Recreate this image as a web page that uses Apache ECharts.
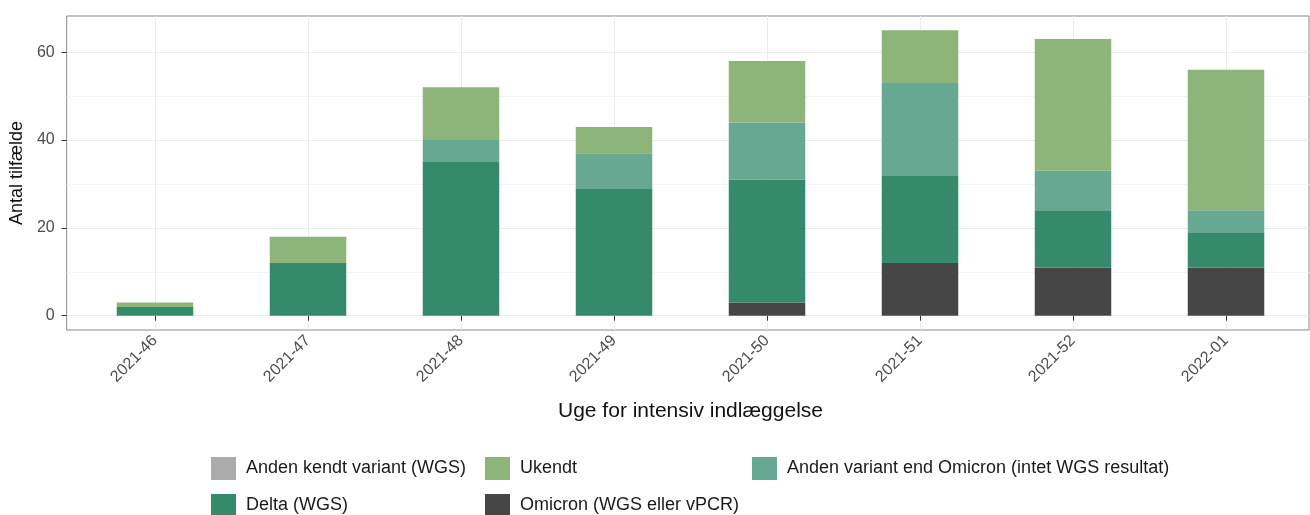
<!DOCTYPE html>
<html>
<head>
<meta charset="utf-8">
<script src="https://cdn.jsdelivr.net/npm/echarts@6/dist/echarts.min.js"></script>
<style>
html,body{margin:0;padding:0;background:#fff;}
#c{width:1310px;height:515px;}
</style>
</head>
<body>
<div id="c"></div>
<script>
const weeks = ['2021-46','2021-47','2021-48','2021-49','2021-50','2021-51','2021-52','2022-01'];
const omicron = [0, 0, 0, 0, 3, 12, 11, 11];
const delta = [2, 12, 35, 29, 28, 20, 13, 8];
const andenVariant = [0, 0, 5, 8, 13, 21, 9, 5];
const ukendt = [1, 6, 12, 6, 14, 12, 30, 32];
const andenKendt = [0, 0, 0, 0, 0, 0, 0, 0];
const yMajorTicks = [0, 20, 40, 60];
const yMinorTicks = [10, 30, 50];

const names = {
  ak: 'Anden kendt variant (WGS)',
  uk: 'Ukendt',
  av: 'Anden variant end Omicron (intet WGS resultat)',
  de: 'Delta (WGS)',
  om: 'Omicron (WGS eller vPCR)'
};
const colors = {ak:'#ababab', uk:'#8db57a', av:'#66a891', de:'#368a6c', om:'#464646'};

const chart = echarts.init(document.getElementById('c'), null, {renderer:'canvas'});
const font = 'Liberation Sans, Arial, sans-serif';
const legendText = {fontFamily: font, fontSize: 18, color: '#1a1a1a', padding: [0, 0, 0, 5]};

function bar(key, data){
  return {
    name: names[key], type: 'bar', stack: 'total', data: data,
    xAxisIndex: 1, yAxisIndex: 2, barWidth: '50%', clip: false,
    itemStyle: {color: colors[key]}, emphasis: {disabled: true}
  };
}
function leg(key, left, top){
  return {left: left, top: top, padding: 0, itemWidth: 25, itemHeight: 23,
    icon: 'rect', textStyle: legendText, data: [names[key]], selectedMode: false};
}

const option = {
  animation: false,
  backgroundColor: '#ffffff',
  grid: [
    {left: 64, top: 16, width: 1245, height: 314, show: true, borderColor: '#8a8a8a', borderWidth: 1, backgroundColor: 'transparent', z: 0},
    {left: 155, top: 16, width: 1071, height: 314}
  ],
  xAxis: [
    {type: 'value', gridIndex: 0, show: false, min: 0, max: 1},
    {type: 'category', gridIndex: 1, data: weeks, boundaryGap: false,
     axisLine: {show: false},
     axisTick: {show: true, length: 5, lineStyle: {color: '#333'}},
     axisLabel: {rotate: 45, fontFamily: font, fontSize: 16, color: '#4d4d4d', margin: 8},
     splitLine: {show: true, lineStyle: {color: '#ebebeb', width: 1}},
     name: 'Uge for intensiv indlæggelse', nameLocation: 'middle', nameGap: 71,
     nameTextStyle: {fontFamily: font, fontSize: 21, color: '#111'}}
  ],
  yAxis: [
    {type: 'value', gridIndex: 0, min: -3.25, max: 68.25,
     axisLine: {show: false},
     axisTick: {show: true, length: 5, lineStyle: {color: '#333'}, customValues: yMajorTicks},
     axisLabel: {fontFamily: font, fontSize: 16, color: '#4d4d4d', margin: 12, customValues: yMajorTicks},
     splitLine: {show: true, lineStyle: {color: '#ebebeb', width: 1}},
     name: 'Antal tilfælde', nameLocation: 'middle', nameRotate: 90, nameGap: 26,
     nameTextStyle: {fontFamily: font, fontSize: 18, color: '#111'}},
    {type: 'value', gridIndex: 0, min: -3.25, max: 68.25,
     axisLine: {show: false}, axisLabel: {show: false},
     axisTick: {show: false, customValues: yMinorTicks},
     splitLine: {show: true, lineStyle: {color: '#f3f3f3', width: 1}}},
    {type: 'value', gridIndex: 1, min: -3.25, max: 68.25, show: false}
  ],
  legend: [
    leg('ak', 211, 457),
    leg('uk', 485, 457),
    leg('av', 752, 457),
    leg('de', 211, 494),
    leg('om', 485, 494)
  ],
  series: [
    bar('om', omicron),
    bar('de', delta),
    bar('av', andenVariant),
    bar('uk', ukendt),
    bar('ak', andenKendt)
  ]
};
chart.setOption(option);
</script>
</body>
</html>
